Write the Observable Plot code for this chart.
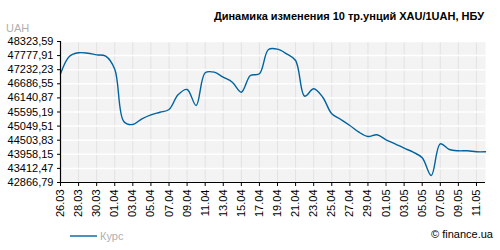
<!DOCTYPE html>
<html>
<head>
<meta charset="utf-8">
<script src="https://cdn.jsdelivr.net/npm/d3@7"></script>
<script src="https://cdn.jsdelivr.net/npm/@observablehq/plot@0.6"></script>
<style>
  html, body { margin: 0; padding: 0; background: #fff; }
  svg { display: block; }
</style>
</head>
<body>
<div id="chart"></div>
<script>
const title = "Динамика изменения 10 тр.унций XAU/1UAH, НБУ";
const unitLabel = "UAH";
const seriesName = "Курс";
const credit = "© finance.ua";

const dates = [
  "2008-03-26","2008-03-27","2008-03-28","2008-03-29","2008-03-30","2008-03-31",
  "2008-04-01","2008-04-02","2008-04-03","2008-04-04","2008-04-05","2008-04-06",
  "2008-04-07","2008-04-08","2008-04-09","2008-04-10","2008-04-11","2008-04-12",
  "2008-04-13","2008-04-14","2008-04-15","2008-04-16","2008-04-17","2008-04-18",
  "2008-04-19","2008-04-20","2008-04-21","2008-04-22","2008-04-23","2008-04-24",
  "2008-04-25","2008-04-26","2008-04-27","2008-04-28","2008-04-29","2008-04-30",
  "2008-05-01","2008-05-02","2008-05-03","2008-05-04","2008-05-05","2008-05-06",
  "2008-05-07","2008-05-08","2008-05-09","2008-05-10","2008-05-11","2008-05-12"
];
const values = [
  47073, 47755, 47886, 47871, 47808, 47755,
  47250, 45227, 45111, 45332, 45487, 45587,
  45692, 46261, 46466, 45847, 47112, 47136,
  46942, 46749, 46362, 47008, 47073, 48014,
  48026, 47848, 47588, 46207, 46493, 46168,
  45525, 45305, 45073, 44813, 44647, 44713,
  44519, 44364, 44194, 44040, 43823, 43138,
  44364, 44144, 44094, 44094, 44055, 44055
];
const yTicks = [48323.59, 47777.91, 47232.23, 46686.55, 46140.87, 45595.19,
                45049.51, 44503.83, 43958.15, 43412.47, 42866.79];
const xTickLabels = ["26.03","28.03","30.03","01.04","03.04","05.04","07.04","09.04",
  "11.04","13.04","15.04","17.04","19.04","21.04","23.04","25.04","27.04","29.04",
  "01.05","03.05","05.05","07.05","09.05","11.05"];

const parseDM = s => { const [d, m] = s.split(".").map(Number); return new Date(Date.UTC(2008, m - 1, d)); };
const xTicks = xTickLabels.map(parseDM);
const data = dates.map((d, i) => ({date: new Date(d + "T00:00:00Z"), value: values[i]}));

const font = "'Liberation Sans', Arial, sans-serif";
const lineColor = "#0063a0";

const chart = Plot.plot({
  width: 500,
  height: 250,
  marginLeft: 60,
  marginRight: 15,
  marginTop: 41,
  marginBottom: 68,
  style: {fontFamily: font, fontSize: "11px", color: "#000", background: "#fff"},
  x: {type: "utc", domain: [data[0].date, data[data.length - 1].date]},
  y: {domain: [yTicks[yTicks.length - 1], yTicks[0]]},
  marks: [
    Plot.frame({fill: "#f3f3f3", stroke: null}),
    Plot.ruleX(xTicks, {stroke: "#e2e2e2", strokeWidth: 1}),
    Plot.ruleY(yTicks, {stroke: "#ffffff", strokeWidth: 1.5}),
    Plot.axisY({ticks: yTicks, tickSize: 3, tickPadding: 4, fill: "#000", stroke: "#000", strokeOpacity: 1,
      tickFormat: d => d.toFixed(2).replace(".", ","), label: null}),
    Plot.axisX({ticks: xTicks, tickSize: 4, tickPadding: 3, tickRotate: -90, fill: "#000", stroke: "#000", strokeOpacity: 1,
      tickFormat: d => d3.utcFormat("%d.%m")(d), label: null}),
    Plot.line(data, {x: "date", y: "value", stroke: lineColor, strokeWidth: 1.4, curve: "catmull-rom"}),
    Plot.ruleX([data[0].date], {stroke: "#000", strokeWidth: 1.2}),
    Plot.ruleY([yTicks[yTicks.length - 1]], {stroke: "#000", strokeWidth: 1.2})
  ]
});

document.getElementById("chart").appendChild(chart);

const svg = d3.select(chart);
svg.append("text").text(title)
  .attr("x", 484).attr("y", 20).attr("text-anchor", "end")
  .attr("font-family", font).attr("font-size", 11).attr("font-weight", "bold").attr("fill", "#000");
svg.append("text").text(unitLabel)
  .attr("x", 6).attr("y", 32).attr("text-anchor", "start")
  .attr("font-family", font).attr("font-size", 11).attr("fill", "#b0b0b0");
svg.append("line")
  .attr("x1", 70).attr("x2", 97).attr("y1", 236).attr("y2", 236)
  .attr("stroke", lineColor).attr("stroke-width", 1.4);
svg.append("text").text(seriesName)
  .attr("x", 100).attr("y", 240).attr("text-anchor", "start")
  .attr("font-family", font).attr("font-size", 11).attr("fill", "#b0b0b0");
svg.append("text").text(credit)
  .attr("x", 493).attr("y", 238).attr("text-anchor", "end")
  .attr("font-family", font).attr("font-size", 11).attr("fill", "#000");
</script>
</body>
</html>
